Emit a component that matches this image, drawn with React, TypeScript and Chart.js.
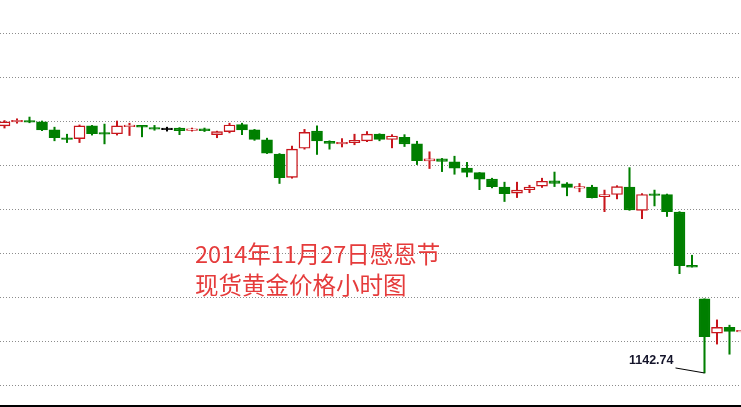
import { useEffect, useRef } from 'react'
import { Chart, registerables, Plugin } from 'chart.js'

Chart.register(...registerables)

// spot gold, hourly candles, 27-28 Nov 2014
const opens = [
  1198.9, 1199.9, 1200.0, 1199.8, 1198.0, 1196.1, 1196.0, 1198.9, 1197.3, 1197.1,
  1198.8, 1199.0, 1198.4, 1198.2, 1198.4, 1197.9, 1198.2, 1196.9, 1197.6, 1199.2,
  1198.0, 1195.7, 1192.5, 1187.2, 1193.8, 1197.7, 1195.4, 1194.9, 1195.1, 1195.5,
  1197.0, 1195.8, 1196.3, 1194.8, 1190.9, 1191.4, 1190.7, 1189.3, 1188.3, 1186.8,
  1185.0, 1183.6, 1184.4, 1185.2, 1186.4, 1185.7, 1184.8, 1185.0, 1182.8, 1183.3,
  1185.0, 1179.7, 1183.4, 1183.3, 1179.3, 1167.2, 1159.6, 1151.8, 1153.1, 1152.1,
]
const highs = [
  1200.1, 1200.5, 1200.9, 1200.0, 1198.6, 1197.0, 1199.1, 1199.0, 1199.3, 1200.0,
  1199.5, 1199.0, 1199.0, 1198.6, 1198.5, 1198.4, 1198.4, 1197.7, 1199.5, 1199.5,
  1198.1, 1196.1, 1192.6, 1194.3, 1198.1, 1198.9, 1195.5, 1196.0, 1197.0, 1197.6,
  1197.1, 1196.9, 1196.9, 1195.4, 1193.0, 1191.5, 1192.0, 1190.6, 1188.3, 1187.0,
  1186.1, 1186.1, 1185.4, 1187.0, 1188.4, 1186.0, 1185.8, 1185.4, 1184.3, 1185.3,
  1189.4, 1183.5, 1184.3, 1183.4, 1179.4, 1169.5, 1159.6, 1154.8, 1153.6, 1152.6,
]
const lows = [
  1198.4, 1199.5, 1199.6, 1197.8, 1195.5, 1195.1, 1195.1, 1196.8, 1194.8, 1196.8,
  1196.7, 1196.4, 1197.9, 1197.7, 1196.9, 1197.7, 1197.6, 1196.2, 1197.3, 1196.9,
  1195.6, 1192.6, 1185.8, 1187.0, 1193.6, 1192.4, 1193.6, 1194.1, 1194.6, 1195.3,
  1195.5, 1193.9, 1194.2, 1190.1, 1189.2, 1188.5, 1187.9, 1187.3, 1184.4, 1184.8,
  1181.7, 1182.6, 1183.7, 1184.9, 1185.1, 1183.0, 1183.9, 1182.5, 1179.4, 1182.3,
  1179.7, 1177.8, 1180.7, 1178.3, 1165.3, 1166.8, 1142.74, 1149.3, 1147.0, 1151.9,
]
const closes = [
  1199.8, 1200.1, 1199.8, 1198.0, 1196.2, 1195.9, 1198.9, 1197.1, 1197.1, 1198.9,
  1199.0, 1198.6, 1198.2, 1198.2, 1197.8, 1198.2, 1197.8, 1197.6, 1199.1, 1198.0,
  1195.8, 1192.7, 1187.1, 1193.6, 1197.4, 1195.5, 1194.9, 1195.1, 1195.6, 1197.0,
  1195.8, 1196.6, 1194.8, 1191.0, 1191.4, 1190.8, 1189.3, 1188.3, 1186.8, 1185.1,
  1183.5, 1184.3, 1185.0, 1186.3, 1185.8, 1184.9, 1185.0, 1182.6, 1183.3, 1185.1,
  1179.8, 1183.3, 1183.1, 1179.4, 1167.1, 1166.8, 1151.0, 1153.1, 1152.2, 1152.4,
]

const titleLines = ['2014年11月27日感恩节', '现货黄金价格小时图']

const Y_MIN = 1135.23
const Y_MAX = 1227.5
const Y_STEP = 10

const RED = '#c8161c'
const GREEN = '#007f00'

const colorOf = (i: number) =>
  closes[i] > opens[i] ? RED : closes[i] < opens[i] ? GREEN : '#000000'

// label + leader line at the lowest low
const lowLabel: Plugin = {
  id: 'lowLabel',
  afterDatasetsDraw(chart) {
    let idx = 0
    lows.forEach((v, i) => {
      if (v < lows[idx]) idx = i
    })
    const px = chart.scales.x.getPixelForValue(idx)
    const py = chart.scales.y.getPixelForValue(lows[idx])
    const ctx = chart.ctx
    ctx.save()
    ctx.strokeStyle = '#000'
    ctx.lineWidth = 1
    ctx.beginPath()
    ctx.moveTo(px, py)
    ctx.lineTo(px - 29, py - 5)
    ctx.stroke()
    ctx.fillStyle = '#14142a'
    ctx.font = 'bold 12.5px "Liberation Sans", Arial, sans-serif'
    ctx.textAlign = 'right'
    ctx.textBaseline = 'alphabetic'
    ctx.fillText(lows[idx].toFixed(2), px - 31, py - 9)
    ctx.restore()
  },
}

export default function App() {
  const canvasRef = useRef<HTMLCanvasElement | null>(null)
  const chartRef = useRef<Chart | null>(null)

  useEffect(() => {
    const ctx = canvasRef.current?.getContext('2d')
    if (!ctx) return

    const bodies = opens.map((o, i) => {
      const c = closes[i]
      // give flat candles a visible thickness
      if (Math.abs(c - o) < 0.35) {
        const m = (o + c) / 2
        return { x: i, y: [m - 0.18, m + 0.18] }
      }
      return { x: i, y: [o, c] }
    })
    const wicks = lows.map((l, i) => ({ x: i, y: [l, highs[i]] }))
    const cols = opens.map((_, i) => colorOf(i))

    chartRef.current?.destroy()
    chartRef.current = new Chart(ctx, {
      type: 'bar',
      data: {
        datasets: [
          {
            label: 'body',
            data: bodies as any,
            grouped: false,
            order: 0,
            barThickness: 11,
            backgroundColor: cols.map((c) => (c === RED ? '#ffffff' : c)),
            borderColor: cols,
            borderWidth: 1.4,
            borderSkipped: false,
          },
          {
            label: 'wick',
            data: wicks as any,
            grouped: false,
            order: 1,
            barThickness: 1.4,
            backgroundColor: cols,
            borderWidth: 0,
          },
        ],
      },
      options: {
        animation: false,
        responsive: true,
        maintainAspectRatio: false,
        layout: { padding: { left: 0, right: 0, top: 0, bottom: 1 } },
        plugins: {
          legend: { display: false },
          tooltip: { enabled: false },
        },
        scales: {
          x: {
            type: 'linear',
            offset: false,
            min: -0.36,
            max: 58.92,
            grid: { display: false, drawTicks: false },
            ticks: { display: false },
            border: { display: true, color: '#000000', width: 2 },
          },
          y: {
            type: 'linear',
            beginAtZero: false,
            min: Y_MIN,
            max: Y_MAX,
            grid: { color: '#8c8c8c', lineWidth: 1, drawTicks: false },
            border: { display: false, dash: [1, 2] },
            ticks: { display: false, stepSize: Y_STEP, includeBounds: false },
          },
        },
      },
      plugins: [lowLabel],
    })

    return () => chartRef.current?.destroy()
  }, [])

  return (
    <div
      style={{
        position: 'fixed',
        left: 0,
        top: 0,
        width: 741,
        height: 407,
        background: '#ffffff',
      }}
    >
      <canvas ref={canvasRef} />
      <div
        style={{
          position: 'absolute',
          left: 195,
          top: 238,
          color: '#e53b3b',
          fontFamily: '"Noto Sans CJK SC", sans-serif',
          fontSize: 23.5,
          lineHeight: '31px',
          whiteSpace: 'nowrap',
        }}
      >
        {titleLines.map((t) => (
          <div key={t}>{t}</div>
        ))}
      </div>
    </div>
  )
}
